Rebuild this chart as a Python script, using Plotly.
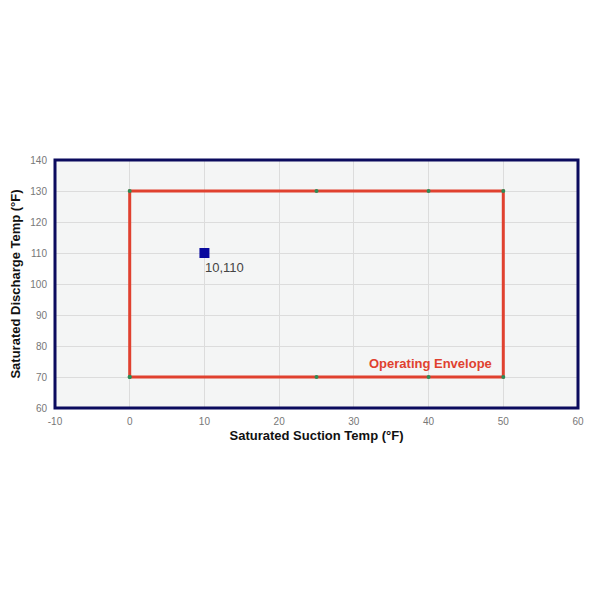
import plotly.graph_objects as go

env_x = [0, 25, 40, 50, 50, 40, 25, 0, 0]
env_y = [70, 70, 70, 70, 130, 130, 130, 130, 70]
pt_x = [10]
pt_y = [110]
pt_label = ["10,110"]
x_ticks = [-10, 0, 10, 20, 30, 40, 50, 60]
x_tick_text = ["-10", "0", "10", "20", "30", "40", "50", "60"]
y_ticks = [60, 70, 80, 90, 100, 110, 120, 130, 140]

fig = go.Figure()
fig.add_trace(go.Scatter(
    x=env_x, y=env_y, mode="lines+markers",
    line=dict(color="#e0412f", width=3),
    marker=dict(color="#2e8b57", size=4),
    hoverinfo="skip", showlegend=False))
fig.add_trace(go.Scatter(
    x=pt_x, y=pt_y, mode="markers",
    marker=dict(color="#0a0a9e", size=10, symbol="square"),
    showlegend=False))
for px, py, lab in zip(pt_x, pt_y, pt_label):
    fig.add_annotation(x=px, y=py, text=lab, showarrow=False,
                       xanchor="left", yanchor="top", xshift=-1, yshift=-5,
                       font=dict(family="Arial, Liberation Sans", size=13, color="#444"))

fig.add_annotation(x=40.2, y=74.2, text="<b>Operating Envelope</b>", showarrow=False,
                   xanchor="center", yanchor="middle",
                   font=dict(family="Arial, Liberation Sans", size=13, color="#e0412f"))

fig.update_layout(
    width=600, height=600,
    margin=dict(l=47, r=30, t=152, b=200),
    paper_bgcolor="white", plot_bgcolor="#f4f5f5",
    font=dict(family="Arial, Liberation Sans"),
    shapes=[dict(type="rect", xref="paper", yref="paper", x0=0, y0=0, x1=1, y1=1,
                 line=dict(color="#0b0b5e", width=3))],
)
fig.update_xaxes(range=[-10, 60], tickvals=x_ticks, ticktext=x_tick_text,
                 showgrid=True, gridcolor="#dcdcdc", automargin=False,
                 zeroline=False, tickfont=dict(size=10, color="#777"),
                 ticks="outside", ticklen=4, tickcolor="rgba(0,0,0,0)",
                 title=dict(text="<b>Saturated Suction Temp (°F)</b>",
                            font=dict(size=13, color="#111"), standoff=4))
fig.update_yaxes(range=[60, 140], tickvals=y_ticks, showgrid=True, gridcolor="#dcdcdc",
                 zeroline=False, tickfont=dict(size=10, color="#777"), automargin=False,
                 ticks="outside", ticklen=5, tickcolor="rgba(0,0,0,0)",
                 title=dict(text="<b>Saturated Discharge Temp (°F)</b>",
                            font=dict(size=13, color="#111"), standoff=6))

fig.write_html("out.html")
